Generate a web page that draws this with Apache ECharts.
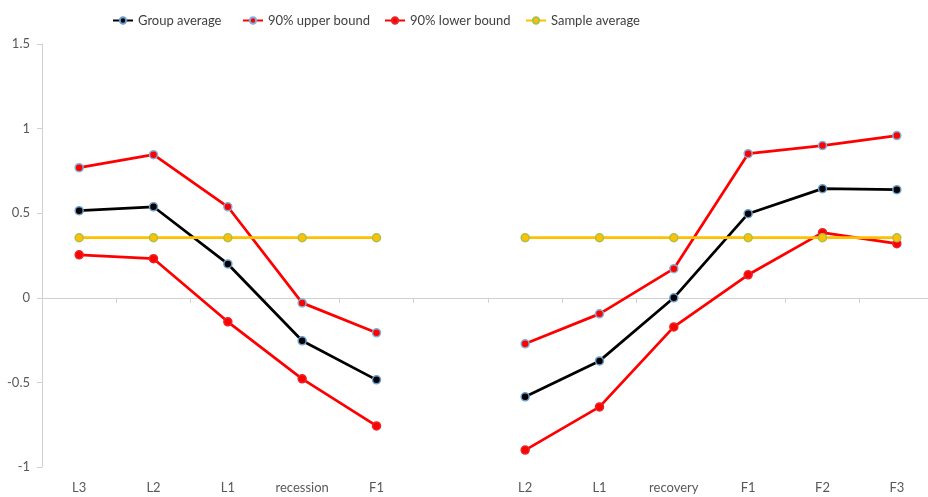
<!DOCTYPE html>
<html>
<head>
<meta charset="utf-8">
<style>
  html, body { margin: 0; padding: 0; background: #ffffff; overflow: hidden; }
  body { width: 928px; height: 497px; }
  #chart { width: 934px; height: 497px; }
</style>
<script src="https://cdn.jsdelivr.net/npm/echarts@6/dist/echarts.min.js"></script>
</head>
<body>
<div id="chart"></div>
<script>
// Periods around recession and recovery; the blank slot separates the two panels
const categories = ['L3', 'L2', 'L1', 'recession', 'F1', '', 'L2', 'L1', 'recovery', 'F1', 'F2', 'F3'];

const groupAverage = [0.515, 0.538, 0.200, -0.254, -0.485, null, -0.585, -0.373, 0.000, 0.497, 0.645, 0.639];
const upperBound   = [0.769, 0.846, 0.538, -0.030, -0.207, null, -0.272, -0.095, 0.172, 0.852, 0.900, 0.959];
const lowerBound   = [0.254, 0.231, -0.142, -0.479, -0.757, null, -0.900, -0.645, -0.172, 0.136, 0.385, 0.320];
const sampleAverage = [0.355, 0.355, 0.355, 0.355, 0.355, null, 0.355, 0.355, 0.355, 0.355, 0.355, 0.355];

const seriesNames = ['Group average', '90% upper bound', '90% lower bound', 'Sample average'];

const yTicks = { min: -1, max: 1.5, interval: 0.5 };

const font = 'Lato, "Open Sans", sans-serif';
const textColor = '#595959';
const axisGray = '#d0d0d0';

function lineSeries(name, data, color, borderColor) {
  return {
    name: name,
    type: 'line',
    data: data,
    xAxisIndex: 0,
    connectNulls: false,
    symbol: 'circle',
    symbolSize: 8,
    lineStyle: { color: color, width: 2.75 },
    itemStyle: { color: color, borderColor: borderColor, borderWidth: 1.5 },
    emphasis: { disabled: true },
    animation: false
  };
}

// one legend entry per component so each can sit at its own offset
const legendLefts = [107, 237, 379, 520];
const legends = seriesNames.map(function (name, i) {
  return {
    top: 9,
    left: legendLefts[i],
    itemWidth: 20,
    itemHeight: 8,
    textStyle: { fontFamily: font, fontSize: 13, color: '#404040' },
    data: [name]
  };
});

const chart = echarts.init(document.getElementById('chart'), null, { renderer: 'canvas' });

chart.setOption({
  animation: false,
  backgroundColor: '#ffffff',
  legend: legends,
  grid: { left: 42, right: 0, top: 44, bottom: 30, containLabel: false },
  xAxis: [
    {
      // bottom row of period labels
      type: 'category',
      data: categories,
      position: 'bottom',
      axisLine: { show: false, onZero: false },
      axisTick: { show: false },
      axisLabel: { fontFamily: font, fontSize: 13, color: textColor, margin: 14, interval: 0 },
      splitLine: { show: false }
    },
    {
      // horizontal axis line crossing at zero
      type: 'category',
      data: categories,
      position: 'bottom',
      axisLine: { show: true, onZero: true, lineStyle: { color: axisGray, width: 1 } },
      axisTick: { show: true, alignWithLabel: false, length: 5, lineStyle: { color: axisGray } },
      axisLabel: { show: false },
      splitLine: { show: false }
    }
  ],
  yAxis: {
    type: 'value',
    min: yTicks.min,
    max: yTicks.max,
    interval: yTicks.interval,
    axisLine: { show: true, lineStyle: { color: axisGray, width: 1 } },
    axisTick: { show: true, length: 5, lineStyle: { color: axisGray } },
    axisLabel: { fontFamily: font, fontSize: 13, color: textColor, margin: 12 },
    splitLine: { show: false }
  },
  series: [
    lineSeries(seriesNames[0], groupAverage, '#000000', '#6a9fd0'),
    lineSeries(seriesNames[1], upperBound, '#ff0000', '#7fb2da'),
    lineSeries(seriesNames[2], lowerBound, '#ff0000', '#e8262a'),
    lineSeries(seriesNames[3], sampleAverage, '#ffc000', '#a8c050')
  ]
});
</script>
</body>
</html>
